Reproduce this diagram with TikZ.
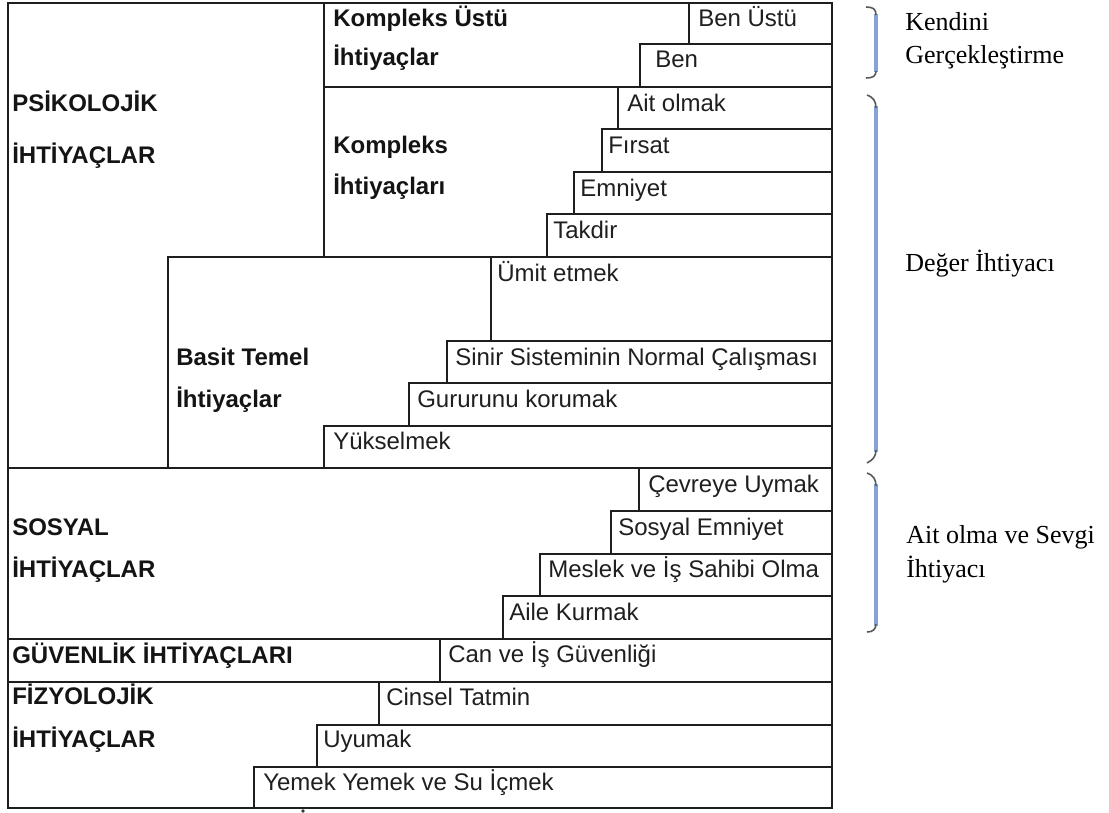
\documentclass[tikz,border=0pt]{standalone}
\usepackage{fontspec}
\setmainfont{Liberation Sans}
\newfontfamily\serifrm{Liberation Serif}
\definecolor{lineclr}{HTML}{1E1E1E}
\definecolor{braceblue}{HTML}{85A3D6}
\begin{document}
\begin{tikzpicture}[x=0.75pt,y=-0.75pt,
  grid/.style={draw=lineclr, line width=1.3pt},
  lbl/.style={anchor=base west, inner sep=0pt, text=black!88, font=\fontsize{18}{20}\selectfont},
  hdr/.style={anchor=base west, inner sep=0pt, text=black!92, font=\fontsize{18}{20}\selectfont\bfseries},
  side/.style={anchor=base west, inner sep=0pt, text=black, font=\serifrm\fontsize{19.5}{22}\selectfont},
  bracebar/.style={draw=braceblue, line width=2.3pt},
  hook/.style={draw=black!65, line width=1.2pt}
]
\fill[white] (0,0) rectangle (1109,813);
\useasboundingbox (0,0) rectangle (1109,813);

% ---------- grid ----------
\draw[grid] (8,3) rectangle (832,808);
% Kompleks Ustu block
\draw[grid] (324,3) -- (324,257);
\draw[grid] (324,87) -- (832,87);
\draw[grid] (689,3) -- (689,44);
\draw[grid] (832,44) -| (640,87);
% Kompleks block
\draw[grid] (618,87) -- (618,129);
\draw[grid] (832,129) -| (602,172);
\draw[grid] (832,172) -| (574,214);
\draw[grid] (832,214) -| (547,257);
% Basit Temel block
\draw[grid] (832,257) -- (168,257) -- (168,468);
\draw[grid] (491,257) -- (491,341);
\draw[grid] (832,341) -| (447,383);
\draw[grid] (832,383) -| (409,426);
\draw[grid] (832,426) -| (324,468);
\draw[grid] (8,468) -- (832,468);
% Sosyal block
\draw[grid] (639,468) -- (639,511);
\draw[grid] (832,511) -| (611,554);
\draw[grid] (832,554) -| (540,596);
\draw[grid] (832,596) -| (503,639);
\draw[grid] (8,639) -- (832,639);
% Guvenlik
\draw[grid] (440,639) -- (440,682);
\draw[grid] (8,682) -- (832,682);
% Fizyolojik
\draw[grid] (379,682) -- (379,725);
\draw[grid] (832,725) -| (317,767);
\draw[grid] (832,767) -| (254,808);

% ---------- bold headings ----------
\node[hdr] (kuA) at (333,27) {Kompleks Üstü};
\node[hdr] (kuB) at (333,66) {İhtiyaçlar};
\node[hdr] (psA) at (12,112) {PSİKOLOJİK};
\node[hdr] (psB) at (12,163) {İHTİYAÇLAR};
\node[hdr] (kA) at (333,154) {Kompleks};
\node[hdr] (kB) at (333,195) {İhtiyaçları};
\node[hdr] (btA) at (176,365) {Basit Temel};
\node[hdr] (btB) at (176,407) {İhtiyaçlar};
\node[hdr] (soA) at (12,535) {SOSYAL};
\node[hdr] (soB) at (12,577) {İHTİYAÇLAR};
\node[hdr] (gu) at (12,663) {GÜVENLİK İHTİYAÇLARI};
\node[hdr] (fiA) at (12,704) {FİZYOLOJİK};
\node[hdr] (fiB) at (12,747) {İHTİYAÇLAR};

% ---------- step labels ----------
\node[lbl] (s1) at (698,27) {Ben Üstü};
\node[lbl] (s2) at (655,68) {Ben};
\node[lbl] (s3) at (627,112) {Ait olmak};
\node[lbl] (s4) at (608,154) {Fırsat};
\node[lbl] (s5) at (580,196) {Emniyet};
\node[lbl] (s6) at (553,238) {Takdir};
\node[lbl] (s7) at (497,281) {Ümit etmek};
\node[lbl] (s8) at (455,365) {Sinir Sisteminin Normal Çalışması};
\node[lbl] (s9) at (417,407) {Gururunu korumak};
\node[lbl] (s10) at (333,449) {Yükselmek};
\node[lbl] (s11) at (648,492) {Çevreye Uymak};
\node[lbl] (s12) at (618,535) {Sosyal Emniyet};
\node[lbl] (s13) at (548,577) {Meslek ve İş Sahibi Olma};
\node[lbl] (s14) at (509,620) {Aile Kurmak};
\node[lbl] (s15) at (448,662) {Can ve İş Güvenliği};
\node[lbl] (s16) at (386,705) {Cinsel Tatmin};
\node[lbl] (s17) at (323,747) {Uyumak};
\node[lbl] (s18) at (263,790) {Yemek Yemek ve Su İçmek};

% stray mark at the bottom edge
\fill[black!80] (303,811) circle (1.8);

% ---------- braces ----------
\draw[bracebar] (876,14) -- (876,72);
\draw[hook] (866,7) .. controls (873,7) and (876,9) .. (876,15);
\draw[hook] (876,71) .. controls (876,76) and (873,78) .. (866,78);

\draw[bracebar] (876,106) -- (876,452);
\draw[hook] (867,95) .. controls (873,97) and (876,101) .. (876,108);
\draw[hook] (876,450) .. controls (876,456) and (873,460) .. (867,463);

\draw[bracebar] (876,484) -- (876,626);
\draw[hook] (867,473) .. controls (873,475) and (876,479) .. (876,486);
\draw[hook] (876,624) .. controls (876,629) and (873,632) .. (867,632);

% ---------- side labels ----------
\node[side] (r1a) at (905,31) {Kendini};
\node[side] (r1b) at (905,64) {Gerçekleştirme};
\node[side] (r2) at (905,271) {Değer İhtiyacı};
\node[side] (r3a) at (906,543) {Ait olma ve Sevgi};
\node[side] (r3b) at (906,577) {İhtiyacı};
\end{tikzpicture}
\end{document}
